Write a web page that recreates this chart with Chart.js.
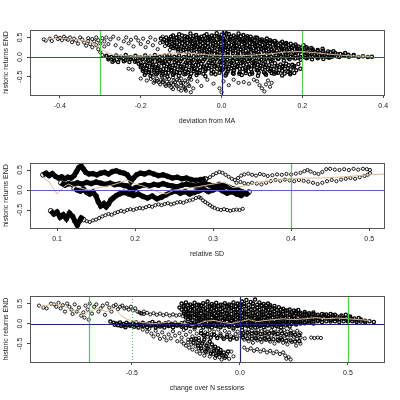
<!DOCTYPE html>
<html><head><meta charset="utf-8">
<script src="https://cdn.jsdelivr.net/npm/chart.js@4.4.1/dist/chart.umd.min.js"></script>
<style>html,body{margin:0;padding:0;background:#fff;}canvas{position:absolute;left:0;}</style>
</head><body>
<canvas id="c1" width="400" height="133" style="top:0px"></canvas>
<canvas id="c2" width="400" height="133" style="top:133px"></canvas>
<canvas id="c3" width="400" height="134" style="top:266px"></canvas>
<script>
// ---------- axis ticks / labels ----------
const yTicks = [-0.5, 0, 0.5];
const yLabels = ['-0.5', '0.0', '0.5'];
const p1TicksX = [-0.4, -0.2, 0, 0.2, 0.4];
const p1LabelsX = ['-0.4', '-0.2', '0.0', '0.2', '0.4'];
const p2TicksX = [0.1, 0.2, 0.3, 0.4, 0.5];
const p2LabelsX = ['0.1', '0.2', '0.3', '0.4', '0.5'];
const p3TicksX = [-0.5, 0, 0.5];
const p3LabelsX = ['-0.5', '0.0', '0.5'];
const yTitle = 'historic returns END';
const xTitles = ['deviation from MA', 'relative SD', 'change over N sessions'];

// ---------- reference lines ----------
const p1Green = [-0.3, 0.2];
const p2Green = [0.4];
const p3Green = [-0.7, 0.5];
const p3Dotted = [-0.5];

// ---------- panel 1 : deviation from MA ----------
const p1Left = [[-.44,.45],[-.435,.42],[-.425,.47],[-.42,.41],[-.41,.52],[-.405,.46],[-.4,.49],[-.395,.43],[-.39,.52],[-.385,.47],[-.38,.44],[-.375,.5],[-.37,.38],[-.365,.47],[-.36,.42],[-.355,.34],[-.35,.5],[-.345,.45],[-.34,.37],[-.335,.29],[-.33,.48],[-.33,.41],[-.325,.33],[-.32,.46],[-.32,.25],[-.315,.4],[-.31,.5],[-.31,.3],[-.305,.43],[-.305,.2],[-.3,.35],[-.3,.12],[-.295,.48],[-.295,.05],[-.29,.4],[-.29,.27],[-.285,.02],[-.285,.5],[-.28,.33],[-.28,-.02],
[-.275,.45],[-.268,.52],[-.262,.3],[-.255,.47],[-.248,.22],[-.242,.4],[-.236,.5],[-.23,.35],[-.224,.44],[-.218,.27],[-.212,.5],[-.206,.42],[-.2,.33],[-.194,.47],[-.188,.25],[-.182,.38],[-.176,.5],[-.17,.3],[-.164,.44],[-.158,.2],[-.152,.36],[-.146,.52],[-.14,.28],[-.134,.42],[-.128,.18],[-.122,.33],[-.116,.22],[-.108,.14]];
const p1Top = [[-.12,.55],[-.105,.58],[-.09,.53],[-.077,.6],[-.063,.56],[-.05,.52],[-.037,.58],[-.024,.55],[-.012,.61],[0,.57],[.008,.64],[.018,.59],[.03,.55],[.042,.6],[.054,.56],[.064,.53],
[-.15,.47],[-.137,.5],[-.124,.46],[-.111,.49],[-.098,.45],[-.085,.5],[-.072,.47],[-.06,.5],[-.047,.46],[-.034,.49],[-.021,.47],[-.008,.51],[.004,.46],[.016,.5],[.028,.47],[.04,.49],[.052,.45],[.064,.48],[.076,.46],[.088,.49],[.1,.45],[.112,.47],
[-.145,.39],[-.13,.42],[-.117,.38],[-.104,.41],[-.091,.39],[-.078,.43],[-.065,.38],[-.052,.41],[-.04,.39],[-.027,.43],[-.015,.38],[-.002,.41],[.01,.39],[.022,.42],[.035,.38],[.048,.41],[.06,.39],[.073,.42],[.086,.38],[.098,.41],[.11,.39],[.123,.4],[.136,.37],[.15,.39],[.16,.36],
[-.13,.31],[-.117,.29],[-.104,.32],[-.091,.3],[-.078,.33],[-.065,.29],[-.052,.31],[-.04,.28],[-.027,.32],[-.014,.3],[-.001,.33],[.012,.29],[.025,.31],[.038,.28],[.05,.32],[.063,.3],[.076,.33],[.089,.29],[.101,.31],[.114,.28],[.127,.32],[.14,.3],[.152,.28],[.165,.31],[.178,.29],[.19,.27],[.203,.3],
[-.12,.23],[-.107,.21],[-.094,.24],[-.081,.22],[-.068,.25],[-.055,.21],[-.042,.23],[-.03,.2],[-.017,.24],[-.004,.22],[.009,.25],[.022,.21],[.034,.23],[.047,.2],[.06,.24],[.072,.22],[.085,.25],[.098,.21],[.11,.23],[.123,.2],[.136,.24],[.148,.22],[.161,.2],[.174,.23],[.187,.21],[.2,.19],[.212,.22],[.225,.2],[.238,.18],[.25,.21],
[-.1,.15],[-.087,.13],[-.074,.16],[-.061,.13],[-.048,.15],[-.035,.12],[-.023,.14],[-.01,.12],[.003,.16],[.015,.13],[.028,.15],[.041,.12],[.053,.14],[.066,.11],[.079,.15],[.091,.13],[.104,.16],[.117,.12],[.129,.14],[.142,.11],[.155,.15],[.167,.13],[.18,.11],[.193,.14],[.205,.12],[.218,.1],[.231,.13],[.243,.11],[.256,.09],[.269,.12],[.281,.1],[.294,.08],[.306,.1]];
const p1TopB = [[-.125,.52],[-.112,.5],[-.098,.55],[-.084,.51],[-.07,.53],[-.056,.49],[-.043,.54],[-.03,.51],[-.018,.53],[-.005,.5],[.006,.54],[.012,.6],[.024,.52],[.036,.51],[.048,.53],[.06,.5],[.072,.52],[.084,.5],
[-.142,.44],[-.13,.46],[-.118,.43],[-.105,.45],[-.092,.42],[-.08,.46],[-.068,.43],[-.055,.45],[-.042,.42],[-.03,.46],[-.018,.43],[-.005,.45],[.007,.42],[.02,.46],[.032,.43],[.045,.45],[.057,.42],[.07,.45],[.082,.43],[.095,.44],[.107,.42],[.12,.43],[.132,.41],
[-.135,.35],[-.122,.34],[-.11,.37],[-.097,.35],[-.085,.36],[-.072,.34],[-.06,.37],[-.047,.35],[-.034,.36],[-.021,.34],[-.008,.37],[.005,.35],[.018,.36],[.031,.34],[.044,.37],[.057,.35],[.07,.36],[.082,.34],[.095,.36],[.108,.34],[.12,.36],[.133,.34],[.146,.35],[.158,.33],[.171,.34],[.183,.32],
[-.125,.27],[-.112,.26],[-.099,.27],[-.086,.25],[-.073,.28],[-.06,.26],[-.047,.27],[-.034,.25],[-.021,.28],[-.008,.26],[.005,.27],[.018,.25],[.031,.28],[.044,.26],[.057,.27],[.07,.25],[.083,.28],[.096,.26],[.108,.27],[.121,.25],[.134,.27],[.147,.25],[.16,.26],[.172,.24],[.185,.26],[.198,.24],[.21,.25],[.222,.23],
[-.108,.19],[-.095,.18],[-.082,.2],[-.069,.17],[-.056,.19],[-.043,.17],[-.03,.19],[-.017,.16],[-.004,.19],[.009,.17],[.022,.2],[.035,.17],[.048,.19],[.06,.16],[.073,.19],[.086,.17],[.099,.2],[.111,.17],[.124,.19],[.137,.16],[.15,.19],[.162,.17],[.175,.18],[.188,.16],[.2,.18],[.213,.16],[.226,.17],[.238,.15],[.251,.16],[.264,.14],[.277,.15],
[-.05,.09],[-.037,.08],[-.024,.1],[-.011,.07],[.002,.09],[.015,.08],[.028,.1],[.041,.07],[.054,.09],[.067,.08],[.08,.1],[.093,.07],[.106,.09],[.119,.08],[.132,.1],[.145,.07],[.158,.09],[.171,.08],[.184,.1],[.197,.07],[.21,.09],[.223,.07],[.236,.08],[.249,.06],[.262,.08],[.275,.06],[.288,.07],[.301,.05],[.314,.06],[.327,.05]];
const p1Mid = [[-.285,.03],[-.273,0],[-.261,.04],[-.249,.01],[-.237,.05],[-.225,0],[-.213,.03],[-.201,-.01],[-.189,.04],[-.177,.01],[-.165,.05],[-.153,0],[-.141,.03],[-.129,.06],[-.117,.01],[-.105,.04],[-.093,0],[-.081,.05],[-.069,.02],[-.057,.06],[-.045,.01],[-.033,.04],[-.021,0],[-.009,.05],[.003,.02],[.015,.06],[.027,.01],[.039,.04],[.051,0],[.063,.05],[.075,.02],[.087,.06],[.099,.01],[.111,.04],[.123,0],[.135,.05],[.147,.02],[.159,.06],[.171,.01],[.183,.04],[.195,0],[.207,.05],[.219,.02],[.231,.06],[.243,.02],[.255,.05],[.267,.01],[.279,.04],[.291,0],[.303,.03],[.315,.01],[.327,.04],[.339,0],[.35,.02],[.362,0],[.372,.01],
[-.28,-.06],[-.266,-.09],[-.252,-.04],[-.238,-.08],[-.224,-.05],[-.21,-.1],[-.196,-.06],[-.182,-.09],[-.168,-.04],[-.154,-.08],[-.14,-.11],[-.126,-.06],[-.112,-.09],[-.098,-.05],[-.084,-.1],[-.07,-.07],[-.056,-.11],[-.042,-.06],[-.028,-.09],[-.014,-.05],[0,-.1],[.014,-.07],[.028,-.1],[.042,-.05],[.056,-.09],[.07,-.06],[.084,-.1],[.098,-.07],[.112,-.04],[.126,-.08],[.14,-.05],[.154,-.09],[.168,-.06],[.182,-.04],[.196,-.07],[.21,-.03],[.224,-.06],[.238,-.03],[.252,-.05],[.266,-.02]];
const p1MidB = [[-.279,-.02],[-.267,-.03],[-.255,0],[-.243,-.03],[-.231,-.01],[-.219,-.04],[-.207,-.02],[-.195,-.04],[-.183,-.01],[-.171,-.03],[-.159,-.02],[-.147,-.04],[-.135,-.01],[-.123,-.03],[-.111,-.02],[-.099,-.04],[-.087,-.01],[-.075,-.03],[-.063,-.02],[-.051,-.04],[-.039,-.01],[-.027,-.03],[-.015,-.02],[-.003,-.04],[.009,-.01],[.021,-.03],[.033,-.02],[.045,-.04],[.057,-.01],[.069,-.03],[.081,-.02],[.093,-.04],[.105,-.01],[.117,-.03],[.129,-.02],[.141,-.03],[.153,-.01],[.165,-.02],[.177,-.01],[.189,-.02],[.201,0],[.213,-.01],[.225,.01],[.237,0],[.249,.01],[.261,0],[.273,.01],[.285,.02],
[-.27,-.12],[-.256,-.13],[-.242,-.11],[-.228,-.13],[-.214,-.12],[-.2,-.14],[-.186,-.12],[-.172,-.13],[-.158,-.11],[-.144,-.14],[-.13,-.12],[-.116,-.13],[-.102,-.11],[-.088,-.14],[-.074,-.12],[-.06,-.13],[-.046,-.11],[-.032,-.14],[-.018,-.12],[-.004,-.13],[.01,-.12],[.024,-.14],[.038,-.12],[.052,-.13],[.066,-.11],[.08,-.13],[.094,-.12],[.108,-.13],[.122,-.11]];
const p1Low = [[-.205,-.17],[-.19,-.2],[-.176,-.16],[-.162,-.19],[-.148,-.15],[-.134,-.18],[-.12,-.21],[-.106,-.16],[-.092,-.19],[-.078,-.15],[-.064,-.2],[-.05,-.17],[-.036,-.21],[-.022,-.16],[-.008,-.19],[.006,-.15],[.02,-.18],[.034,-.21],[.048,-.16],[.062,-.19],[.076,-.15],[.09,-.2],[.104,-.17],[.118,-.21],[.132,-.16],[.146,-.19],[.16,-.17],[.175,-.2],[.19,-.18],
[-.2,-.26],[-.186,-.29],[-.172,-.25],[-.158,-.28],[-.144,-.31],[-.13,-.26],[-.116,-.29],[-.102,-.25],[-.088,-.3],[-.074,-.27],[-.06,-.31],[-.046,-.26],[-.032,-.29],[-.018,-.24],[-.004,-.3],[.01,-.26],[.024,-.29],[.038,-.25],[.052,-.3],[.066,-.27],[.08,-.24],[.094,-.29],[.108,-.26],[.122,-.3],[.136,-.27],[.15,-.25],[.164,-.29],[.178,-.26],[.195,-.3],
[-.195,-.35],[-.181,-.38],[-.167,-.34],[-.153,-.37],[-.139,-.4],[-.125,-.35],[-.111,-.38],[-.097,-.34],[-.083,-.39],[-.069,-.36],[-.055,-.4],[-.04,-.35],[-.02,-.38],[0,-.33],[.015,-.37],[.03,-.34],[.045,-.39],[.06,-.35],[.075,-.38],[.09,-.34],[.105,-.39],[.12,-.36],[.135,-.4],[.15,-.35],[.165,-.38],[.18,-.41],
[-.19,-.45],[-.176,-.48],[-.162,-.44],[-.148,-.47],[-.134,-.5],[-.12,-.45],[-.106,-.48],[-.092,-.44],[-.078,-.5],[-.062,-.46],[-.04,-.49],[-.015,-.44],[.01,-.47],[.03,-.43],[.05,-.46],[.07,-.44],[.09,-.48],[.11,-.45],[.13,-.43],[.15,-.47],[.17,-.44]];
const p1LowB = [[-.198,-.22],[-.184,-.23],[-.17,-.21],[-.156,-.24],[-.142,-.22],[-.128,-.23],[-.114,-.21],[-.1,-.24],[-.086,-.22],[-.072,-.23],[-.058,-.21],[-.044,-.24],[-.03,-.22],[-.016,-.23],[-.002,-.21],[.012,-.24],[.026,-.22],[.04,-.23],[.054,-.21],[.068,-.24],[.082,-.22],[.096,-.23],[.11,-.21],[.124,-.24],[.138,-.22],[.152,-.23],[.166,-.21],[.18,-.23],
[-.193,-.31],[-.179,-.33],[-.165,-.3],[-.151,-.33],[-.137,-.31],[-.123,-.33],[-.109,-.32],[-.095,-.3],[-.081,-.33],[-.067,-.31],[-.053,-.34],[-.039,-.31],[-.025,-.33],[-.011,-.3],[.003,-.32],[.017,-.31],[.031,-.33],[.045,-.3],[.059,-.32],[.073,-.31],[.087,-.33],[.101,-.3],[.115,-.32],[.129,-.31],[.143,-.33],[.157,-.3],[.171,-.32],[.185,-.34],
[-.187,-.4],[-.173,-.42],[-.159,-.41],[-.145,-.43],[-.131,-.4],[-.117,-.42],[-.103,-.41],[-.089,-.43],[-.075,-.42],[-.06,-.41],[-.045,-.43],[-.025,-.42],[-.005,-.4],[.012,-.42],[.028,-.41],[.044,-.43],[.06,-.41],[.076,-.42],[.092,-.4],[.108,-.42],[.124,-.41],[.14,-.4],[.156,-.42],[.17,-.4]];
const p1Bottom = [[-.23,-.3],[-.22,-.32],[-.2,-.55],[-.185,-.6],[-.175,-.56],[-.168,-.66],[-.16,-.61],[-.152,-.7],[-.145,-.64],[-.138,-.74],[-.13,-.68],[-.124,-.78],[-.118,-.6],[-.112,-.72],[-.106,-.82],[-.1,-.66],[-.094,-.76],[-.088,-.86],[-.082,-.7],[-.076,-.9],[-.07,-.8],[-.06,-.62],[-.05,-.74],[-.035,-.58],[-.02,-.68],[-.005,-.8],[0,-.9],[.005,-.62],[.018,-.72],[.03,-.58],[.042,-.66],[.055,-.64],[.068,-.68],[.08,-.58],[.088,-.62],[.094,-.72],[.1,-.8],[.106,-.88],[.11,-.7],[.115,-.6],[.12,-.76],[.124,-.66],
[-.17,-.52],[-.16,-.55],[-.15,-.58],[-.14,-.53],[-.13,-.56],[-.12,-.52],[-.11,-.58],[-.1,-.55],[-.09,-.6],[-.08,-.54],[-.165,-.62],[-.155,-.65],[-.145,-.6],[-.135,-.63],[-.125,-.67],[-.115,-.64],[-.105,-.6],[-.095,-.66],[-.085,-.63],[-.075,-.58],[-.14,-.7],[-.13,-.73],[-.12,-.71],[-.11,-.75],[-.1,-.73],[-.09,-.78],[-.08,-.74],[-.12,-.82],[-.1,-.86],[-.09,-.82]];
const p1Smooth = [[-.44,.45],[-.4,.48],[-.36,.45],[-.33,.4],[-.31,.3],[-.29,.15],[-.27,.06],[-.24,.03],[-.2,.02],[-.16,.05],[-.12,.1],[-.08,.1],[-.04,.06],[0,.04],[.04,.03],[.08,.05],[.12,.08],[.16,.13],[.2,.14],[.24,.1],[.28,.06],[.32,.03],[.37,.02]];

// ---------- panel 2 : relative SD ----------
const p2PathUpper = [[.082,.38],[.086,.42],[.09,.36],[.094,.41],[.098,.34],[.102,.3],[.106,.33],[.11,.28],[.114,.32],[.118,.3],[.122,.36],[.125,.46],[.128,.56],[.131,.6],[.134,.52],[.137,.44],[.141,.4],[.146,.41],[.151,.38],[.156,.42],[.161,.44],[.166,.4],[.171,.46],[.176,.48],[.181,.44],[.186,.42],[.19,.38],[.193,.3],[.195,.22],[.198,.3],[.202,.38],[.207,.42],[.212,.4],[.218,.44],[.224,.4],[.23,.36],[.236,.38],[.242,.34],[.248,.3],[.254,.32],[.26,.28],[.266,.3],[.272,.26],[.278,.24],[.284,.26],[.29,.28]];
const p2PathMiddle = [[.105,.18],[.11,.12],[.115,.16],[.12,.14],[.126,.18],[.132,.15],[.138,.19],[.144,.16],[.15,.2],[.156,.17],[.162,.14],[.168,.17],[.174,.13],[.18,.15],[.186,.11],[.19,.1],[.194,.04],[.197,-.02],[.2,.05],[.206,.1],[.212,.13],[.218,.1],[.224,.14],[.23,.12],[.236,.16],[.242,.12],[.248,.1],[.254,.08],[.26,.12],[.266,.15],[.272,.12],[.278,.1],[.284,.13],[.29,.16],[.296,.12],[.302,.1],[.308,.14],[.314,.1],[.32,.07],[.326,.03],[.332,0],[.338,-.05],[.343,-.1],[.346,-.05]];
const p2PathDown = [[.122,.04],[.126,0],[.13,-.03],[.134,.02],[.138,-.06],[.142,-.1],[.146,-.05],[.15,-.15],[.153,-.3],[.156,-.4],[.16,-.34],[.163,-.42],[.166,-.35],[.169,-.25],[.172,-.2],[.176,-.14],[.18,-.1],[.186,-.06],[.192,-.1],[.198,-.14],[.204,-.1],[.21,-.16],[.216,-.2],[.222,-.15],[.228,-.22],[.234,-.18],[.24,-.12],[.246,-.06],[.252,-.02],[.258,-.08],[.264,-.04],[.27,-.1],[.276,-.06],[.282,-.02],[.288,.02],[.294,-.04],[.3,0],[.306,.04],[.312,-.02],[.318,-.08],[.324,-.04],[.33,-.1],[.336,-.14],[.341,-.08]];
const p2PathLow = [[.092,-.52],[.096,-.6],[.1,-.55],[.104,-.68],[.108,-.62],[.112,-.72],[.116,-.58],[.12,-.66],[.123,-.78],[.126,-.88],[.128,-.8],[.131,-.7],[.134,-.74]];
const p2ChainLow = [[.138,-.78],[.142,-.8],[.146,-.76],[.15,-.74],[.154,-.7],[.158,-.66],[.162,-.63],[.166,-.6],[.17,-.62],[.174,-.58],[.178,-.55],[.182,-.52],[.186,-.54],[.19,-.5],[.194,-.48],[.198,-.5],[.202,-.47],[.206,-.45],[.21,-.46],[.214,-.43],[.218,-.4],[.222,-.42],[.226,-.38],[.23,-.36],[.234,-.38],[.238,-.35],[.242,-.33],[.246,-.36],[.25,-.34],[.254,-.31],[.258,-.3],[.262,-.32],[.266,-.28],[.27,-.26],[.274,-.24],[.278,-.2],[.282,-.18],[.284,-.2],[.287,-.26],[.29,-.3],[.293,-.34],[.296,-.38],[.299,-.42],[.302,-.45],[.306,-.48],[.31,-.5],[.314,-.48],[.318,-.5],[.322,-.52],[.326,-.5],[.33,-.49],[.334,-.5],[.338,-.47]];
const p2ChainUpper = [[.292,.28],[.296,.32],[.3,.38],[.304,.42],[.308,.45],[.312,.43],[.316,.38],[.32,.33],[.324,.28],[.328,.25],[.332,.3],[.336,.36],[.34,.39],[.345,.41],[.35,.38],[.355,.36],[.36,.4],[.365,.38],[.37,.35],[.376,.37],[.382,.39],[.388,.38],[.394,.4],[.4,.39],[.406,.41],[.412,.43],[.417,.47],[.421,.5],[.425,.46],[.43,.42],[.435,.4],[.44,.45],[.445,.52],[.45,.53],[.456,.51],[.462,.5],[.468,.52],[.474,.5],[.48,.53],[.486,.51],[.492,.53],[.497,.52],[.501,.5]];
const p2ChainLower = [[.33,.18],[.335,.2],[.34,.17],[.345,.15],[.35,.18],[.356,.16],[.362,.14],[.368,.18],[.374,.22],[.38,.25],[.386,.23],[.392,.26],[.398,.24],[.404,.22],[.41,.25],[.416,.23],[.422,.21],[.428,.18],[.434,.15],[.44,.18],[.446,.22],[.452,.25],[.458,.22],[.464,.26],[.47,.28],[.476,.3],[.482,.28],[.488,.32],[.494,.35],[.498,.38],[.501,.42]];
const p2Smooth = [[.083,.3],[.09,.2],[.095,.05],[.1,-.1],[.105,0],[.11,.1],[.115,.15],[.12,.1],[.13,.05],[.14,0],[.15,.05],[.16,.08],[.17,.12],[.18,.18],[.19,.25],[.2,.15],[.21,.1],[.22,.02],[.23,-.05],[.24,-.1],[.25,0],[.26,.02],[.27,.05],[.28,.08],[.3,.15],[.315,.2],[.325,.06],[.34,.1],[.36,.2],[.38,.25],[.4,.28],[.42,.3],[.44,.3],[.46,.32],[.48,.35],[.5,.38],[.52,.4]];

// ---------- panel 3 : change over N sessions ----------
const p3Left = [[-.93,.45],[-.91,.4],[-.895,.38],[-.875,.5],[-.86,.48],[-.85,.42],[-.84,.52],[-.83,.38],[-.82,.46],[-.81,.3],[-.8,.5],[-.79,.42],[-.78,.35],[-.775,.24],[-.765,.48],[-.755,.3],[-.745,.4],[-.735,.2],[-.725,.28],[-.715,.45],[-.705,.35],[-.695,.5],[-.685,.25],[-.675,.42],[-.665,.48],[-.655,.3],[-.645,.38],[-.635,.45],[-.625,.22],[-.615,.5],[-.605,.4],[-.595,.3],[-.585,.44],[-.575,.47],[-.565,.36],[-.555,.42],[-.545,.45],[-.535,.38],[-.525,.4],[-.515,.35],[-.505,.42],[-.495,.33],[-.485,.38],[-.475,.3],[-.465,.28],[-.455,.25],[-.445,.3],[-.72,.15],[-.7,.1],
[-.46,.26],[-.445,.24],[-.43,.27],[-.415,.23],[-.4,.26],[-.385,.22],[-.37,.25],[-.355,.21],[-.34,.24],[-.325,.2],[-.31,.23],[-.295,.2],[-.28,.22],[-.265,.19],[-.25,.22],[-.235,.18]];
const p3Top = [[-.27,.5],[-.25,.53],[-.23,.48],[-.21,.52],[-.19,.47],[-.17,.51],[-.15,.55],[-.13,.49],[-.11,.52],[-.09,.47],[-.07,.51],[-.05,.48],[-.03,.53],[-.01,.5],[.01,.55],[.03,.59],[.05,.54],[.07,.6],[.09,.53],[.11,.49],[.13,.5],
[-.28,.4],[-.26,.43],[-.24,.38],[-.22,.42],[-.2,.39],[-.18,.44],[-.16,.38],[-.14,.42],[-.12,.4],[-.1,.44],[-.08,.38],[-.06,.42],[-.04,.39],[-.02,.43],[0,.4],[.02,.44],[.04,.39],[.06,.43],[.08,.4],[.1,.44],[.12,.39],[.14,.42],[.16,.38],[.18,.41],[.2,.37],
[-.26,.3],[-.24,.27],[-.22,.31],[-.2,.28],[-.18,.32],[-.16,.27],[-.14,.3],[-.12,.33],[-.1,.28],[-.08,.31],[-.06,.27],[-.04,.32],[-.02,.29],[0,.33],[.02,.28],[.04,.31],[.06,.27],[.08,.32],[.1,.29],[.12,.33],[.14,.28],[.16,.31],[.18,.27],[.2,.3],[.22,.33],[.24,.28],[.26,.31],[.28,.27],[.3,.29],[.32,.26],[.34,.28],
[-.25,.2],[-.23,.17],[-.21,.22],[-.19,.18],[-.17,.21],[-.15,.17],[-.13,.22],[-.11,.19],[-.09,.23],[-.07,.18],[-.05,.21],[-.03,.17],[-.01,.22],[.01,.19],[.03,.23],[.05,.18],[.07,.21],[.09,.17],[.11,.22],[.13,.19],[.15,.23],[.17,.18],[.19,.21],[.21,.17],[.23,.22],[.25,.19],[.27,.23],[.29,.18],[.31,.21],[.33,.17],[.35,.2],[.37,.18],[.39,.22],[.41,.19],[.43,.21],[.45,.18],[.47,.2],[.49,.22],[.51,.18],
[-.24,.11],[-.22,.08],[-.2,.12],[-.18,.09],[-.16,.13],[-.14,.08],[-.12,.11],[-.1,.14],[-.08,.09],[-.06,.12],[-.04,.08],[-.02,.11],[0,.13],[.02,.09],[.04,.12],[.06,.08],[.08,.11],[.1,.14],[.12,.09],[.14,.12],[.16,.08],[.18,.11],[.2,.13],[.22,.09],[.24,.12],[.26,.08],[.28,.11],[.3,.13],[.32,.09],[.34,.12],[.36,.08],[.38,.11],[.4,.13],[.42,.09],[.44,.12],[.46,.1],[.48,.13],[.5,.09],[.52,.11],[.54,.08],[.56,.1],[.58,.07],[.6,.06]];
const p3TopB = [[-.26,.45],[-.24,.46],[-.22,.44],[-.2,.47],[-.18,.45],[-.16,.47],[-.14,.45],[-.12,.46],[-.1,.44],[-.08,.47],[-.06,.45],[-.04,.46],[-.02,.44],[0,.47],[.02,.49],[.04,.47],[.06,.5],[.08,.47],[.1,.46],[.12,.45],[.14,.46],[.16,.44],
[-.27,.35],[-.25,.36],[-.23,.34],[-.21,.37],[-.19,.35],[-.17,.36],[-.15,.34],[-.13,.37],[-.11,.35],[-.09,.36],[-.07,.34],[-.05,.37],[-.03,.35],[-.01,.36],[.01,.34],[.03,.37],[.05,.35],[.07,.36],[.09,.34],[.11,.37],[.13,.35],[.15,.36],[.17,.34],[.19,.35],[.21,.33],[.23,.35],[.25,.33],[.27,.34],
[-.26,.25],[-.24,.24],[-.22,.26],[-.2,.24],[-.18,.26],[-.16,.23],[-.14,.25],[-.12,.24],[-.1,.26],[-.08,.23],[-.06,.25],[-.04,.24],[-.02,.26],[0,.23],[.02,.25],[.04,.24],[.06,.26],[.08,.23],[.1,.25],[.12,.24],[.14,.26],[.16,.23],[.18,.25],[.2,.24],[.22,.26],[.24,.23],[.26,.25],[.28,.24],[.3,.25],[.32,.23],[.34,.24],[.36,.22],[.38,.24],[.4,.23],[.42,.24],[.44,.22],
[-.25,.15],[-.23,.14],[-.21,.16],[-.19,.14],[-.17,.15],[-.15,.13],[-.13,.16],[-.11,.14],[-.09,.15],[-.07,.13],[-.05,.16],[-.03,.14],[-.01,.15],[.01,.13],[.03,.16],[.05,.14],[.07,.15],[.09,.13],[.11,.16],[.13,.14],[.15,.15],[.17,.13],[.19,.16],[.21,.14],[.23,.15],[.25,.13],[.27,.16],[.29,.14],[.31,.15],[.33,.13],[.35,.15],[.37,.14],[.39,.16],[.41,.14],[.43,.15],[.45,.13],[.47,.15],[.49,.14],[.51,.15],[.53,.13],[.55,.14],
[-.2,.06],[-.18,.05],[-.16,.07],[-.14,.05],[-.12,.06],[-.1,.04],[-.08,.07],[-.06,.05],[-.04,.06],[-.02,.04],[0,.07],[.02,.05],[.04,.06],[.06,.04],[.08,.07],[.1,.05],[.12,.06],[.14,.04],[.16,.07],[.18,.05],[.2,.06],[.22,.04],[.24,.07],[.26,.05],[.28,.06],[.3,.04],[.32,.06],[.34,.05],[.36,.06],[.38,.04],[.4,.06],[.42,.05],[.44,.06],[.46,.04],[.48,.06],[.5,.05],[.52,.06],[.54,.04],[.56,.05],[.58,.03],[.62,.04]];
const p3Mid = [[-.6,.05],[-.585,.02],[-.57,0],[-.555,.03],[-.54,-.01],[-.525,.02],[-.51,-.02],[-.495,.01],[-.48,.03],[-.465,-.01],[-.45,.02],[-.435,-.02],[-.42,.01],[-.405,.04],[-.39,-.01],[-.375,.02],[-.36,-.02],[-.345,.01],[-.33,.03],[-.315,-.01],[-.3,.02],[-.285,-.02],[-.27,.01],[-.255,.03],[-.24,-.01],[-.225,.02],[-.21,-.02],[-.195,.01],[-.18,.03],[-.165,-.01],[-.15,.02],[-.135,-.02],[-.12,.01],[-.105,.03],[-.09,-.01],[-.075,.02],[-.06,-.02],[-.045,.01],[-.03,.03],[-.015,-.01],[0,.02],[.015,-.02],[.03,.01],[.045,.03],[.06,-.01],[.075,.02],[.09,0],[.105,.03],[.12,.01],[.135,.03],[.15,0],[.165,.02],[.18,0],[.2,.02],[.22,0],[.24,.02],[.26,.01],[.28,.03],[.3,.01],[.32,.02],[.34,0],
[-.55,-.06],[-.53,-.09],[-.51,-.05],[-.49,-.08],[-.47,-.1],[-.45,-.06],[-.43,-.09],[-.41,-.05],[-.39,-.1],[-.37,-.07],[-.35,-.1],[-.33,-.06],[-.31,-.09],[-.29,-.05],[-.27,-.08],[-.25,-.11],[-.23,-.06],[-.21,-.09],[-.19,-.05],[-.17,-.1],[-.15,-.07],[-.13,-.1],[-.11,-.06],[-.09,-.09],[-.07,-.05],[-.05,-.08],[-.03,-.11],[-.01,-.06],[.01,-.09],[.03,-.05],[.05,-.08],[.07,-.1],[.09,-.06],[.11,-.09],[.13,-.05],[.15,-.08],[.17,-.06],[.19,-.09],[.21,-.05],[.23,-.07]];
const p3MidB = [[-.58,-.03],[-.565,-.04],[-.55,-.02],[-.535,-.05],[-.52,-.03],[-.505,-.05],[-.49,-.03],[-.475,-.04],[-.46,-.02],[-.445,-.05],[-.43,-.03],[-.415,-.04],[-.4,-.02],[-.385,-.05],[-.37,-.03],[-.355,-.04],[-.34,-.02],[-.325,-.05],[-.31,-.03],[-.295,-.04],[-.28,-.02],[-.265,-.05],[-.25,-.03],[-.235,-.04],[-.22,-.02],[-.205,-.05],[-.19,-.03],[-.175,-.04],[-.16,-.02],[-.145,-.05],[-.13,-.03],[-.115,-.04],[-.1,-.02],[-.085,-.05],[-.07,-.03],[-.055,-.04],[-.04,-.02],[-.025,-.05],[-.01,-.03],[.005,-.04],[.02,-.02],[.035,-.05],[.05,-.03],[.065,-.04],[.08,-.02],[.095,-.04],[.11,-.03],[.125,-.04],[.14,-.02],[.155,-.03],[.17,-.02],[.185,-.03],[.2,-.01],[.22,-.02],[.24,-.01],[.26,-.02],[.28,0]];
const p3LowLeft = [[-.45,-.15],[-.43,-.2],[-.42,-.13],[-.41,-.25],[-.4,-.32],[-.39,-.18],[-.38,-.28],[-.37,-.38],[-.36,-.22],[-.35,-.33],[-.34,-.42],[-.33,-.27],[-.32,-.37],[-.31,-.19],[-.3,-.3],[-.29,-.44],[-.28,-.24],[-.27,-.35],[-.26,-.16],[-.25,-.28],[-.24,-.4],[-.23,-.2],[-.22,-.32],[-.21,-.14],[-.2,-.25],[-.19,-.36],[-.18,-.18],[-.17,-.29],[-.16,-.22],[-.15,-.33],[-.14,-.16],[-.13,-.27],[-.12,-.2],[-.11,-.31],[-.1,-.15],[-.09,-.25],[-.08,-.35],[-.07,-.18],[-.06,-.28],[-.05,-.22],[-.04,-.32],[-.03,-.15],[-.02,-.26],[-.01,-.2],[0,-.3],
[-.27,-.45],[-.26,-.5],[-.25,-.55],[-.24,-.47],[-.235,-.6],[-.225,-.52],[-.22,-.65],[-.21,-.42],[-.205,-.57],[-.2,-.7],[-.195,-.48],[-.19,-.62],[-.185,-.75],[-.18,-.55],[-.175,-.68],[-.17,-.45],[-.165,-.8],[-.16,-.6],[-.155,-.72],[-.15,-.5],[-.145,-.65],[-.14,-.82],[-.135,-.58],[-.13,-.7],[-.125,-.76],[-.12,-.62],[-.115,-.86],[-.11,-.68],[-.105,-.78],[-.1,-.7],[-.095,-.84],[-.09,-.74],[-.085,-.9],[-.08,-.8],[-.07,-.86],[-.06,-.76],[-.05,-.88],[-.04,-.7],[-.03,-.82]];
const p3LowB = [[-.225,-.4],[-.215,-.48],[-.205,-.38],[-.195,-.55],[-.19,-.42],[-.18,-.62],[-.175,-.5],[-.165,-.4],[-.16,-.7],[-.155,-.55],[-.15,-.62],[-.14,-.45],[-.135,-.75],[-.13,-.52],[-.12,-.68],[-.115,-.58],[-.11,-.8],[-.1,-.62],[-.095,-.72],[-.09,-.66],[-.085,-.78],[-.075,-.72],[-.065,-.82],[-.055,-.7],
[-.18,-.24],[-.165,-.3],[-.15,-.26],[-.135,-.35],[-.12,-.28],[-.105,-.36],[-.09,-.3],[-.075,-.38],[-.06,-.33],[-.045,-.4],[-.03,-.35],[-.015,-.38],
[.015,-.24],[.035,-.23],[.055,-.25],[.075,-.24],[.095,-.26],[.115,-.24],[.135,-.25],[.155,-.23],[.175,-.26],[.195,-.25],[.215,-.27],[.235,-.25],[.255,-.28],[.275,-.29],
[.015,-.35],[.035,-.37],[.055,-.38],[.075,-.37],[.095,-.39],[.115,-.38],[.135,-.4],[.155,-.39],[.175,-.41],[.195,-.4],[.215,-.43],[.235,-.42],[.255,-.45],[.275,-.44]];
const p3LowRight = [[.01,-.16],[.025,-.2],[.04,-.14],[.055,-.18],[.07,-.22],[.085,-.16],[.1,-.19],[.115,-.15],[.13,-.2],[.145,-.17],[.16,-.21],[.175,-.15],[.19,-.19],[.205,-.16],[.22,-.2],[.235,-.17],[.25,-.22],[.265,-.18],[.28,-.24],
[.01,-.28],[.025,-.32],[.04,-.27],[.055,-.31],[.07,-.35],[.085,-.28],[.1,-.33],[.115,-.29],[.13,-.34],[.145,-.3],[.16,-.27],[.175,-.32],[.19,-.36],[.205,-.3],[.22,-.34],[.235,-.29],[.25,-.33],[.265,-.38],[.28,-.35],[.3,-.37],
[.02,-.4],[.04,-.44],[.06,-.48],[.08,-.42],[.1,-.46],[.12,-.41],[.14,-.45],[.16,-.5],[.18,-.44],[.2,-.48],[.22,-.52],[.24,-.46],[.26,-.55],[.28,-.5],
[.33,-.35],[.345,-.36],[.36,-.35],[.375,-.36],
[.02,-.6],[.035,-.66],[.05,-.62],[.065,-.68],[.08,-.64],[.095,-.7],[.11,-.66],[.125,-.72],[.14,-.68],[.155,-.74],[.17,-.7],[.185,-.76],[.2,-.72],[.21,-.8],[.215,-.88],[.225,-.84],[.235,-.9]];
const p3Smooth = [[-.93,.42],[-.9,.45],[-.86,.5],[-.82,.45],[-.78,.35],[-.75,.3],[-.72,.2],[-.7,.3],[-.66,.38],[-.62,.3],[-.58,.38],[-.55,.2],[-.52,.1],[-.48,.05],[-.44,.02],[-.4,0],[-.36,.02],[-.32,.05],[-.28,.03],[-.25,0],[-.22,-.05],[-.19,0],[-.16,.06],[-.12,.08],[-.08,.03],[-.04,0],[0,.05],[.04,.1],[.08,.05],[.12,.08],[.16,.1],[.2,.12],[.25,.1],[.3,.12],[.35,.15],[.4,.12],[.45,.14],[.5,.12],[.55,.1],[.6,.08]];

// ---------- drawing ----------
Chart.defaults.font.family = "'Liberation Sans', Arial, sans-serif";
Chart.defaults.font.size = 7;
Chart.defaults.color = '#222';

const framePlugin = {
  id: 'frame',
  afterDatasetsDraw(chart, args, opts) {
    const {ctx, chartArea: a, scales: {x, y}} = chart;
    ctx.save();
    ctx.beginPath(); ctx.rect(a.left, a.top, a.right - a.left, a.bottom - a.top); ctx.clip();
    (opts.v || []).forEach(l => {
      const px = Math.round(x.getPixelForValue(l.value)) + 0.5;
      ctx.strokeStyle = l.color; ctx.lineWidth = 1.2; ctx.setLineDash(l.dash || []);
      ctx.beginPath(); ctx.moveTo(px, a.top); ctx.lineTo(px, a.bottom); ctx.stroke();
    });
    (opts.h || []).forEach(l => {
      const py = Math.round(y.getPixelForValue(l.value)) + 0.5;
      ctx.strokeStyle = l.color; ctx.lineWidth = 1.2; ctx.setLineDash(l.dash || []);
      ctx.beginPath(); ctx.moveTo(a.left, py); ctx.lineTo(a.right, py); ctx.stroke();
    });
    ctx.restore();
    ctx.save();
    ctx.strokeStyle = '#555'; ctx.lineWidth = 1;
    ctx.strokeRect(Math.round(a.left) + 0.5, Math.round(a.top) + 0.5, Math.round(a.right - a.left), Math.round(a.bottom - a.top));
    ctx.restore();
  }
};

const toXY = arr => arr.map(p => ({x: p[0], y: p[1]}));

function cloud(arr) {
  return {data: toXY(arr), showLine: false, borderColor: '#000', backgroundColor: 'rgba(0,0,0,0)',
    pointBorderColor: '#000', pointBackgroundColor: 'rgba(0,0,0,0)', pointRadius: 1.6, pointBorderWidth: 0.9, order: 1};
}
function dense(arr) {
  return {data: toXY(arr), showLine: false, borderColor: '#000', backgroundColor: 'rgba(0,0,0,0)',
    pointBorderColor: '#000', pointBackgroundColor: 'rgba(0,0,0,0)', pointRadius: 1.6, pointBorderWidth: 1.3, order: 1};
}
function ribbon(arr) {
  return {data: toXY(arr), showLine: true, borderColor: '#000', backgroundColor: 'rgba(0,0,0,0)', borderWidth: 5,
    pointBorderColor: '#000', pointBackgroundColor: 'rgba(0,0,0,0)', pointRadius: 2.4, pointBorderWidth: 0.9, order: 2};
}
function smooth(arr) {
  return {data: toXY(arr), showLine: true, borderColor: '#d8bb8d', backgroundColor: 'rgba(0,0,0,0)', borderWidth: 1,
    pointRadius: 0, order: 0};
}

function panel(id, o) {
  new Chart(document.getElementById(id), {
    type: 'scatter',
    data: {datasets: o.datasets},
    options: {
      responsive: false, animation: false, events: [],
      layout: {padding: {top: 30, right: 16, left: 0, bottom: 0}},
      elements: {line: {tension: 0}},
      plugins: {legend: {display: false}, tooltip: {enabled: false}, colors: {enabled: false}, frame: {v: o.v, h: o.h}},
      scales: {
        x: {type: 'linear', min: o.xmin, max: o.xmax,
          afterBuildTicks: s => { s.ticks = o.xticks.map(v => ({value: v})); },
          ticks: {autoSkip: false, maxRotation: 0, minRotation: 0, padding: 4, color: '#222', callback: (v, i) => o.xlabels[i]},
          grid: {display: true, drawOnChartArea: false, drawTicks: true, tickLength: 3, color: '#444'},
          border: {display: false},
          title: {display: true, text: o.xtitle, color: '#222', padding: {top: 0, bottom: 8}},
          afterFit: s => { s.height = 38; }
        },
        y: {type: 'linear', min: o.ymin, max: o.ymax,
          afterBuildTicks: s => { s.ticks = yTicks.map(v => ({value: v})); },
          ticks: {autoSkip: false, minRotation: 90, maxRotation: 90, crossAlign: 'center', padding: 1, color: '#222', callback: (v, i) => yLabels[i]},
          grid: {display: true, drawOnChartArea: false, drawTicks: true, tickLength: 3, color: '#444'},
          border: {display: false},
          title: {display: true, text: yTitle, color: '#222', padding: {top: 2, bottom: 0}},
          afterFit: s => { s.width = 30; }
        }
      }
    },
    plugins: [framePlugin]
  });
}

const green = '#55c855', blue = '#3a48b4', lightBlue = '#5a62c4', navy = '#1c2570';

panel('c1', {
  xmin: -0.474, xmax: 0.402, ymin: -0.97, ymax: 0.69,
  xticks: p1TicksX, xlabels: p1LabelsX, xtitle: xTitles[0],
  datasets: [smooth(p1Smooth), cloud(p1Left), dense(p1Top), dense(p1TopB), dense(p1Mid), dense(p1MidB), dense(p1Low), dense(p1LowB), cloud(p1Bottom)],
  v: p1Green.map(v => ({value: v, color: green})).concat([{value: 0, color: navy}]),
  h: [{value: 0, color: blue}]
});

panel('c2', {
  xmin: 0.0654, xmax: 0.519, ymin: -0.95, ymax: 0.675,
  xticks: p2TicksX, xlabels: p2LabelsX, xtitle: xTitles[1],
  datasets: [smooth(p2Smooth), ribbon(p2PathUpper), ribbon(p2PathMiddle), ribbon(p2PathDown), ribbon(p2PathLow),
    cloud(p2ChainLow), cloud(p2ChainUpper), cloud(p2ChainLower)],
  v: p2Green.map(v => ({value: v, color: green})),
  h: [{value: 0, color: lightBlue}]
});

panel('c3', {
  xmin: -0.972, xmax: 0.667, ymin: -0.96, ymax: 0.69,
  xticks: p3TicksX, xlabels: p3LabelsX, xtitle: xTitles[2],
  datasets: [smooth(p3Smooth), cloud(p3Left), dense(p3Top), dense(p3TopB), dense(p3Mid), dense(p3MidB), cloud(p3LowLeft), dense(p3LowB), cloud(p3LowRight)],
  v: p3Green.map(v => ({value: v, color: green}))
      .concat(p3Dotted.map(v => ({value: v, color: green, dash: [1, 2]})))
      .concat([{value: 0, color: navy}]),
  h: [{value: 0, color: navy}]
});
</script>
</body></html>
